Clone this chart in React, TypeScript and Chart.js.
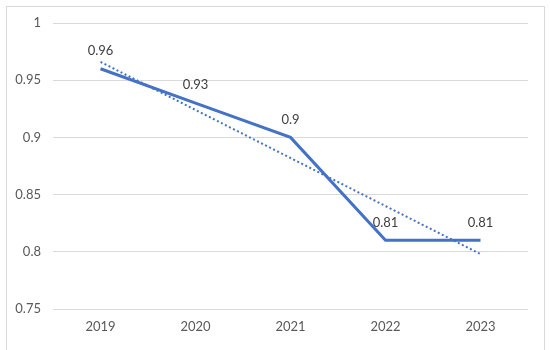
import React, { useEffect, useRef } from "react";
import { Chart, registerables } from "chart.js";

Chart.register(...registerables);

const categories = ["2019", "2020", "2021", "2022", "2023"];
const values = [0.96, 0.93, 0.9, 0.81, 0.81];
const yTicks = [0.75, 0.8, 0.85, 0.9, 0.95, 1];

// Linear trendline (least squares), as the spreadsheet's trendline does
function trend(ys: number[]): number[] {
  const n = ys.length;
  const xs = ys.map((_, i) => i + 1);
  const mx = xs.reduce((a, b) => a + b, 0) / n;
  const my = ys.reduce((a, b) => a + b, 0) / n;
  let num = 0, den = 0;
  for (let i = 0; i < n; i++) {
    num += (xs[i] - mx) * (ys[i] - my);
    den += (xs[i] - mx) * (xs[i] - mx);
  }
  const m = num / den;
  const b = my - m * mx;
  return xs.map((x) => m * x + b);
}

const FONT = "Lato, 'Liberation Sans', sans-serif";

const labelPlugin = {
  id: "valueLabels",
  afterDatasetsDraw(chart: any) {
    const ctx = chart.ctx;
    const meta = chart.getDatasetMeta(0);
    ctx.save();
    ctx.font = `13px ${FONT}`;
    ctx.fillStyle = "#404040";
    ctx.textAlign = "center";
    ctx.textBaseline = "middle";
    meta.data.forEach((pt: any, i: number) => {
      ctx.fillText(String(values[i]), pt.x, pt.y - 18);
    });
    ctx.restore();
  },
};

export default function App() {
  const ref = useRef<HTMLCanvasElement>(null);
  useEffect(() => {
    if (!ref.current) return;
    const chart = new Chart(ref.current, {
      type: "line",
      data: {
        labels: categories,
        datasets: [
          {
            data: values,
            borderColor: "#4472C4",
            borderWidth: 3,
            pointRadius: 0,
            tension: 0,
            fill: false,
          },
          {
            data: trend(values),
            borderColor: "#4472C4",
            borderWidth: 2,
            borderDash: [2, 2.5],
            pointRadius: 0,
            tension: 0,
            fill: false,
          },
        ],
      },
      options: {
        animation: false,
        responsive: false,
        maintainAspectRatio: false,
        layout: { padding: { left: 0, right: 22, top: 23, bottom: 0 } },
        plugins: {
          legend: { display: false },
          tooltip: { enabled: false },
        },
        scales: {
          x: {
            offset: true,
            grid: { display: false, drawTicks: false },
            border: { display: false },
            ticks: {
              color: "#595959",
              font: { family: FONT, size: 13 },
              padding: 10,
            },
            afterFit(scale: any) {
              scale.height = 41;
            },
          },
          y: {
            min: 0.75,
            max: 1,
            afterBuildTicks(scale: any) {
              scale.ticks = yTicks.map((v) => ({ value: v }));
            },
            grid: { color: "#d9d9d9", lineWidth: 1, drawTicks: false },
            border: { display: false },
            ticks: {
              color: "#595959",
              font: { family: FONT, size: 13 },
              padding: 12,
              callback: (v: any) => String(Number(v)),
            },
            afterFit(scale: any) {
              scale.width = 53;
            },
          },
        },
      },
      plugins: [labelPlugin],
    });
    return () => chart.destroy();
  }, []);

  return (
    <div style={{ position: "fixed", left: 0, top: 0, width: 550, height: 350, background: "#fff" }}>
      <div
        style={{
          position: "absolute",
          left: 6,
          top: 6,
          width: 539,
          height: 344,
          borderLeft: "1px solid #d9d9d9",
          borderTop: "1px solid #d9d9d9",
          borderRight: "1px solid #d9d9d9",
          boxSizing: "border-box",
        }}
      />
      <canvas ref={ref} width={550} height={350} style={{ position: "absolute", left: 0, top: 0 }} />
    </div>
  );
}
